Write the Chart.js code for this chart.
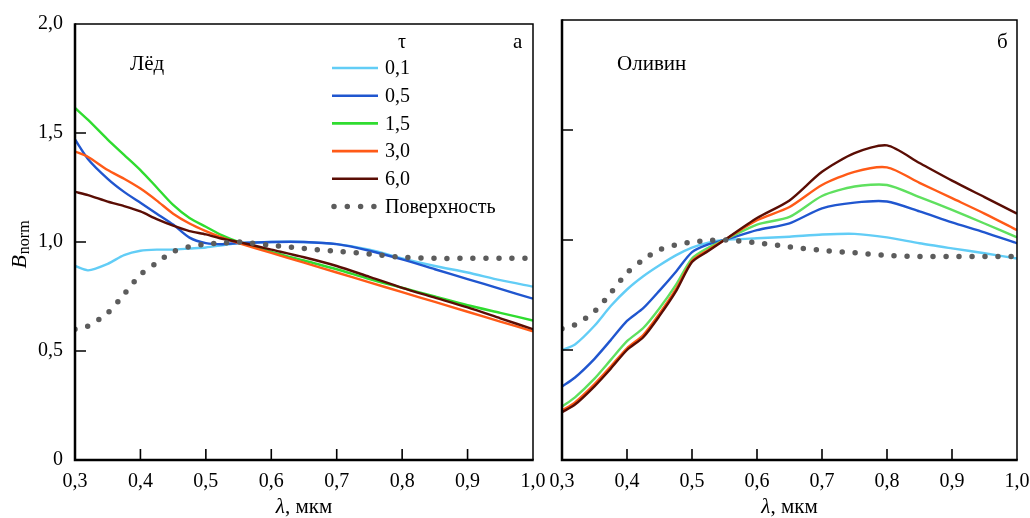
<!DOCTYPE html>
<html lang="ru">
<head>
<meta charset="utf-8">
<title>B norm</title>
<script src="https://cdn.jsdelivr.net/npm/chart.js@4.4.1/dist/chart.umd.min.js"></script>
<style>
  html, body { margin: 0; padding: 0; background: #fff; }
  #wrap { position: relative; width: 1030px; height: 518px; overflow: hidden; background: #fff; }
  #wrap canvas { position: absolute; top: 0; }
  #iceCanvas { left: 0; }
  #olivineCanvas { left: 540px; }
</style>
</head>
<body>
<div id="wrap">
  <canvas id="iceCanvas" width="555" height="518"></canvas>
  <canvas id="olivineCanvas" width="490" height="518"></canvas>
</div>
<script>
// wavelength grid, мкм
const wavelengths = [0.30, 0.32, 0.35, 0.375, 0.40, 0.425, 0.45, 0.475, 0.50, 0.525, 0.55, 0.60, 0.65, 0.70, 0.75, 0.80, 0.85, 0.90, 0.95, 1.00];

const tauLabels = ['0,1', '0,5', '1,5', '3,0', '6,0'];
const surfaceLabel = 'Поверхность';

const xTickValues = [0.3, 0.4, 0.5, 0.6, 0.7, 0.8, 0.9, 1.0];
const xTickLabels = ['0,3', '0,4', '0,5', '0,6', '0,7', '0,8', '0,9', '1,0'];
const yTickValues = [0, 0.5, 1.0, 1.5, 2.0];
const yTickLabels = ['0', '0,5', '1,0', '1,5', '2,0'];

// Лёд
const ice01 = [0.89, 0.87, 0.90, 0.94, 0.96, 0.965, 0.965, 0.97, 0.975, 0.985, 0.995, 1.0, 1.0, 0.99, 0.965, 0.925, 0.89, 0.86, 0.825, 0.795];
const ice05 = [1.47, 1.38, 1.29, 1.23, 1.18, 1.13, 1.08, 1.02, 0.995, 0.99, 0.995, 1.0, 1.0, 0.99, 0.96, 0.92, 0.875, 0.83, 0.785, 0.74];
const ice15 = [1.615, 1.56, 1.47, 1.40, 1.33, 1.25, 1.17, 1.11, 1.07, 1.03, 1.0, 0.955, 0.915, 0.875, 0.83, 0.79, 0.75, 0.71, 0.675, 0.64];
const ice30 = [1.415, 1.39, 1.33, 1.29, 1.245, 1.19, 1.13, 1.085, 1.05, 1.02, 0.995, 0.95, 0.905, 0.86, 0.815, 0.77, 0.725, 0.68, 0.635, 0.59];
const ice60 = [1.23, 1.215, 1.185, 1.165, 1.14, 1.105, 1.075, 1.05, 1.035, 1.015, 1.0, 0.965, 0.93, 0.89, 0.84, 0.79, 0.745, 0.70, 0.65, 0.60];
const iceSurface = [0.60, 0.615, 0.675, 0.76, 0.85, 0.905, 0.955, 0.978, 0.99, 0.995, 1.0, 0.985, 0.97, 0.958, 0.945, 0.93, 0.925, 0.925, 0.925, 0.925];

// Оливин
const olivine01 = [0.50, 0.525, 0.61, 0.70, 0.775, 0.835, 0.885, 0.93, 0.965, 0.988, 1.0, 1.008, 1.015, 1.025, 1.028, 1.012, 0.985, 0.962, 0.94, 0.916];
const olivine05 = [0.334, 0.375, 0.46, 0.545, 0.632, 0.69, 0.77, 0.855, 0.945, 0.98, 1.0, 1.045, 1.076, 1.144, 1.17, 1.175, 1.13, 1.08, 1.035, 0.985];
const olivine15 = [0.243, 0.285, 0.37, 0.455, 0.54, 0.60, 0.69, 0.795, 0.916, 0.965, 1.0, 1.07, 1.105, 1.2, 1.243, 1.25, 1.195, 1.137, 1.075, 1.012];
const olivine30 = [0.225, 0.262, 0.345, 0.425, 0.508, 0.568, 0.665, 0.775, 0.905, 0.955, 1.0, 1.09, 1.15, 1.25, 1.31, 1.33, 1.26, 1.19, 1.12, 1.045];
const olivine60 = [0.217, 0.252, 0.335, 0.415, 0.50, 0.558, 0.655, 0.765, 0.90, 0.95, 1.0, 1.1, 1.18, 1.31, 1.395, 1.43, 1.35, 1.27, 1.195, 1.12];
const olivineSurface = [0.597, 0.615, 0.675, 0.76, 0.85, 0.91, 0.955, 0.978, 0.99, 0.997, 1.0, 0.987, 0.969, 0.953, 0.942, 0.93, 0.925, 0.925, 0.925, 0.925];

const tauColors = ['#62cdf6', '#2056cf', '#2fdc2f', '#ff5a17', '#5a0d04'];
const olivineColors = ['#62cdf6', '#2056cf', '#5fe05f', '#ff5a17', '#5a0d04'];
const surfaceColor = '#5c5c5c';
const SERIF = '"Liberation Serif", "Times New Roman", serif';

function buildDatasets(series, surface, colors) {
  const sets = series.map((vals, i) => ({
    label: tauLabels[i],
    data: wavelengths.map((w, k) => ({ x: w, y: vals[k] })),
    borderColor: colors[i],
    borderWidth: 2.4,
    pointRadius: 0,
    tension: 0.25,
    order: series.length - i
  }));
  sets.push({
    label: surfaceLabel,
    data: wavelengths.map((w, k) => ({ x: w, y: surface[k] })),
    borderColor: surfaceColor,
    borderWidth: 5.5,
    borderDash: [0, 13],
    borderCapStyle: 'round',
    pointRadius: 0,
    tension: 0.3,
    order: 0
  });
  return sets;
}

function drawAxisTitle(ctx, cx, baseline) {
  const italic = 'italic 21px ' + SERIF;
  const upright = '21px ' + SERIF;
  ctx.font = italic;
  const w1 = ctx.measureText('λ').width;
  ctx.font = upright;
  const w2 = ctx.measureText(', мкм').width;
  const x0 = cx - (w1 + w2) / 2;
  ctx.textAlign = 'left';
  ctx.textBaseline = 'alphabetic';
  ctx.font = italic;
  ctx.fillText('λ', x0, baseline);
  ctx.font = upright;
  ctx.fillText(', мкм', x0 + w1, baseline);
}

function drawYTitle(ctx, x, cy) {
  const big = 'italic 22px ' + SERIF;
  const sub = '16px ' + SERIF;
  ctx.font = big;
  const wB = ctx.measureText('B').width;
  ctx.font = sub;
  const wS = ctx.measureText('norm').width;
  ctx.save();
  ctx.translate(x, cy);
  ctx.rotate(-Math.PI / 2);
  ctx.textAlign = 'left';
  ctx.textBaseline = 'alphabetic';
  const start = -(wB + wS) / 2;
  ctx.font = big;
  ctx.fillText('B', start, 0);
  ctx.font = sub;
  ctx.fillText('norm', start + wB + 1, 3);
  ctx.restore();
}

function drawLegend(ctx, colors) {
  const x0 = 332, x1 = 378, top = 68, step = 27.7;
  ctx.font = '20px ' + SERIF;
  ctx.fillStyle = '#000';
  ctx.textAlign = 'left';
  ctx.textBaseline = 'alphabetic';
  ctx.fillText('τ', 398, 48);
  ctx.textBaseline = 'middle';
  tauLabels.forEach((lab, i) => {
    const y = top + i * step;
    ctx.strokeStyle = colors[i];
    ctx.lineWidth = 2.6;
    ctx.setLineDash([]);
    ctx.lineCap = 'butt';
    ctx.beginPath();
    ctx.moveTo(x0, y);
    ctx.lineTo(x1, y);
    ctx.stroke();
    ctx.fillText(lab, 385, y + 1);
  });
  const ys = top + tauLabels.length * step;
  ctx.strokeStyle = surfaceColor;
  ctx.lineWidth = 5.5;
  ctx.lineCap = 'round';
  ctx.setLineDash([0, 13.3]);
  ctx.beginPath();
  ctx.moveTo(334, ys);
  ctx.lineTo(376, ys);
  ctx.stroke();
  ctx.setLineDash([]);
  ctx.fillText(surfaceLabel, 385, ys + 1);
}

// frame, inward ticks and captions of one panel
function panelDecor(opts) {
  return {
    id: 'panelDecor',
    afterDraw(chart) {
      const { ctx, chartArea: a, scales: { x, y } } = chart;
      ctx.save();
      ctx.strokeStyle = '#000';
      ctx.lineWidth = 1.6;
      ctx.beginPath();
      xTickValues.slice(1, -1).forEach(v => {
        const px = x.getPixelForValue(v);
        ctx.moveTo(px, a.bottom);
        ctx.lineTo(px, a.bottom - 11);
      });
      yTickValues.slice(1, -1).forEach(v => {
        const py = y.getPixelForValue(v);
        ctx.moveTo(a.left, py);
        ctx.lineTo(a.left + 11, py);
      });
      ctx.stroke();

      ctx.lineWidth = 1.5;
      ctx.beginPath();
      ctx.moveTo(a.left, a.top);
      ctx.lineTo(a.right, a.top);
      ctx.lineTo(a.right, a.bottom);
      ctx.stroke();
      ctx.lineWidth = 2.5;
      ctx.beginPath();
      ctx.moveTo(a.left, a.top - 0.75);
      ctx.lineTo(a.left, a.bottom);
      ctx.lineTo(a.right + 0.75, a.bottom);
      ctx.stroke();

      ctx.fillStyle = '#000';
      ctx.font = '21px ' + SERIF;
      ctx.textAlign = 'left';
      ctx.textBaseline = 'alphabetic';
      ctx.fillText(opts.name, a.left + 55, 70);
      ctx.fillText(opts.letter, a.right - 20, 48);

      drawAxisTitle(ctx, (a.left + a.right) / 2, 513);
      if (opts.legend) drawLegend(ctx, opts.colors);
      if (opts.yTitle) drawYTitle(ctx, 26, 245);
      ctx.restore();
    }
  };
}

function makeChart(canvasId, series, surface, colors, opts) {
  return new Chart(document.getElementById(canvasId), {
    type: 'line',
    data: { datasets: buildDatasets(series, surface, colors) },
    options: {
      responsive: false,
      animation: false,
      events: [],
      layout: { padding: { left: 0, top: 20, right: opts.padRight, bottom: 0 } },
      plugins: { legend: { display: false }, tooltip: { enabled: false } },
      scales: {
        x: {
          type: 'linear',
          min: 0.3,
          max: 1.0,
          afterBuildTicks: s => { s.ticks = xTickValues.map(v => ({ value: v })); },
          afterFit: s => { s.height = 58; s.paddingLeft = 0; s.paddingRight = 0; },
          grid: { display: false, drawTicks: false },
          border: { display: false },
          ticks: {
            padding: 10,
            color: '#000',
            maxRotation: 0,
            autoSkip: false,
            font: { family: SERIF, size: 20 },
            callback: (v, i) => xTickLabels[i]
          }
        },
        y: {
          type: 'linear',
          min: 0,
          max: 2,
          afterBuildTicks: s => { s.ticks = yTickValues.map(v => ({ value: v })); },
          afterFit: s => { s.width = opts.yWidth; },
          grid: { display: false, drawTicks: false },
          border: { display: false },
          ticks: {
            display: opts.yLabels,
            padding: 12,
            color: '#000',
            font: { family: SERIF, size: 20 },
            callback: (v, i) => yTickLabels[i]
          }
        }
      }
    },
    plugins: [panelDecor({ ...opts, colors })]
  });
}

makeChart('iceCanvas', [ice01, ice05, ice15, ice30, ice60], iceSurface, tauColors, {
  name: 'Лёд', letter: 'а', legend: true, yTitle: true, yLabels: true, yWidth: 75, padRight: 22
});
makeChart('olivineCanvas', [olivine01, olivine05, olivine15, olivine30, olivine60], olivineSurface, olivineColors, {
  name: 'Оливин', letter: 'б', legend: false, yTitle: false, yLabels: false, yWidth: 22, padRight: 13
});
</script>
</body>
</html>
